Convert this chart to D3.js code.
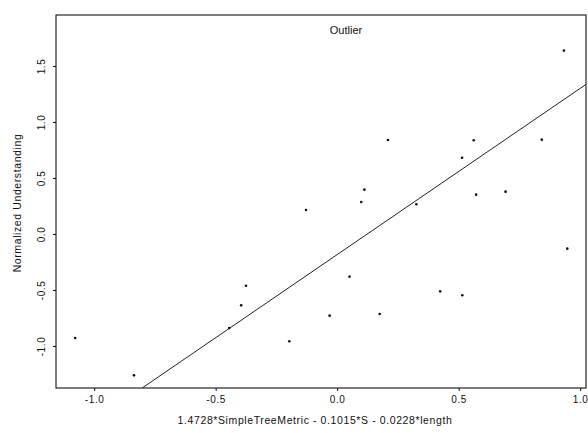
<!DOCTYPE html>
<html>
<head>
<meta charset="utf-8">
<script src="https://cdn.jsdelivr.net/npm/d3@7"></script>
<style>
  html, body { margin: 0; padding: 0; background: #fff; }
  svg { display: block; }
  text { font-family: "Liberation Sans", Arial, sans-serif; fill: #111; }
</style>
</head>
<body>
<svg id="chart" width="588" height="433"></svg>
<script>
// ---- data ----
const pointX = [-1.078, -0.836, -0.128, -0.375, -0.395, -0.444, -0.197, 0.933, 0.209, 0.562, 0.842, 0.514,
                0.112, 0.099, 0.326, 0.572, 0.693, 0.947, 0.051, 0.424, 0.515, -0.031, 0.175];
const pointY = [-0.929, -1.262, 0.214, -0.462, -0.637, -0.839, -0.958, 1.637, 0.839, 0.837, 0.842, 0.681,
                0.396, 0.286, 0.265, 0.351, 0.378, -0.131, -0.381, -0.512, -0.547, -0.729, -0.714];
const fitIntercept = -0.184;
const fitSlope = 1.484;
const xTicks = [-1.0, -0.5, 0.0, 0.5, 1.0];
const xTickLabels = ["-1.0", "-0.5", "0.0", "0.5", "1.0"];
const yTicks = [1.5, 1.0, 0.5, 0.0, -0.5, -1.0];
const yTickLabels = ["1.5", "1.0", "0.5", "0.0", "-0.5", "-1.0"];
const xDomain = [-1.157, 1.024];
const yDomain = [-1.375, 1.955];
const titleText = "Outlier";
const xLabel = "1.4728*SimpleTreeMetric - 0.1015*S - 0.0228*length";
const yLabel = "Normalized Understanding";

// ---- layout ----
const svg = d3.select("#chart");
const mLeft = 56, mRight = 586, mTop = 15, mBottom = 388;

const x = d3.scaleLinear().domain(xDomain).range([mLeft, mRight]);
const y = d3.scaleLinear().domain(yDomain).range([mBottom, mTop]);

// frame
svg.append("rect")
  .attr("x", mLeft).attr("y", mTop)
  .attr("width", mRight - mLeft).attr("height", mBottom - mTop)
  .attr("fill", "none").attr("stroke", "#111").attr("stroke-width", 1.1);

// axes
const xAxis = d3.axisBottom(x).tickValues(xTicks).tickSize(3).tickPadding(5)
  .tickFormat((d, i) => xTickLabels[i]);
const gx = svg.append("g").attr("transform", `translate(0,${mBottom})`).call(xAxis);
gx.select(".domain").remove();
gx.selectAll("line").attr("stroke", "#111");
gx.selectAll("text").attr("font-size", 10).attr("letter-spacing", 0.6)
  .style("font-family", "Liberation Sans, Arial, sans-serif");

const yAxis = d3.axisLeft(y).tickValues(yTicks).tickSize(3).tickPadding(0)
  .tickFormat((d, i) => yTickLabels[i]);
const gy = svg.append("g").attr("transform", `translate(${mLeft},0)`).call(yAxis);
gy.select(".domain").remove();
gy.selectAll("line").attr("stroke", "#111");
gy.selectAll("text")
  .attr("font-size", 10)
  .attr("letter-spacing", 0.6)
  .attr("x", null)
  .attr("text-anchor", "middle")
  .attr("transform", "translate(-15,0) rotate(-90)")
  .attr("y", 0)
  .attr("dy", "0.35em")
  .style("font-family", "Liberation Sans, Arial, sans-serif");

// clip path for the fit line
svg.append("clipPath").attr("id", "plotclip")
  .append("rect").attr("x", mLeft).attr("y", mTop).attr("width", mRight - mLeft).attr("height", mBottom - mTop);

// regression line through plot domain
const lineXs = [(yDomain[0] - fitIntercept) / fitSlope, xDomain[1]];
svg.append("path")
  .attr("clip-path", "url(#plotclip)")
  .attr("d", d3.line().x(d => x(d)).y(d => y(fitIntercept + fitSlope * d))(lineXs))
  .attr("fill", "none").attr("stroke", "#222").attr("stroke-width", 1);

// points
svg.append("g").selectAll("circle")
  .data(pointX.map((v, i) => [v, pointY[i]]))
  .join("circle")
  .attr("cx", d => x(d[0])).attr("cy", d => y(d[1]))
  .attr("r", 1.3).attr("fill", "#111");

// title inside plot
svg.append("text")
  .attr("x", 346).attr("y", 34)
  .attr("text-anchor", "middle").attr("font-size", 11)
  .text(titleText);

// x label
svg.append("text")
  .attr("x", 315).attr("y", 424)
  .attr("text-anchor", "middle").attr("font-size", 10.5).attr("letter-spacing", 0.6)
  .text(xLabel);

// y label
svg.append("text")
  .attr("transform", "translate(21,203) rotate(-90)")
  .attr("text-anchor", "middle").attr("font-size", 10.5).attr("letter-spacing", 0.6)
  .text(yLabel);
</script>
</body>
</html>
